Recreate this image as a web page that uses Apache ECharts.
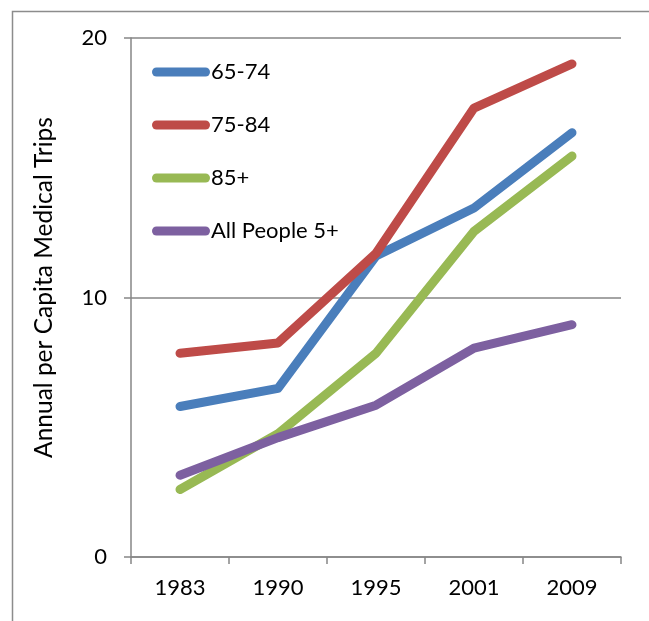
<!DOCTYPE html>
<html>
<head>
<meta charset="utf-8">
<script src="https://cdn.jsdelivr.net/npm/echarts@6/dist/echarts.min.js"></script>
<style>
  html, body { margin: 0; padding: 0; background: #fff; }
  #chart { width: 649px; height: 621px; }
</style>
</head>
<body>
<div id="chart"></div>
<script>
// Survey years on the category axis
const years = ['1983', '1990', '1995', '2001', '2009'];

// Annual per capita medical trips by age group
const age65to74 = [5.8, 6.5, 11.6, 13.45, 16.35];
const age75to84 = [7.85, 8.25, 11.7, 17.3, 19.0];
const age85plus = [2.6, 4.75, 7.85, 12.55, 15.45];
const allPeople5plus = [3.15, 4.6, 5.85, 8.05, 8.95];

const seriesNames = ['65-74', '75-84', '85+', 'All People 5+'];
const seriesColors = ['#4A7EBB', '#BE4B48', '#98B954', '#7D60A0'];
const seriesValues = [age65to74, age75to84, age85plus, allPeople5plus];

const font = 'Lato, "Liberation Sans", sans-serif';
const axisGray = '#868686';

const chart = echarts.init(document.getElementById('chart'), null, { renderer: 'canvas' });

chart.setOption({
  animation: false,
  backgroundColor: '#fff',
  graphic: [{
    type: 'rect',
    left: 10, top: 9,
    shape: { width: 700, height: 700 },
    style: { fill: 'none', stroke: '#8c8c8c', lineWidth: 1.5 },
    silent: true
  }],
  grid: { left: 131, right: 28, top: 38, bottom: 64 },
  legend: {
    orient: 'vertical',
    left: 152, top: 60,
    padding: 0,
    itemWidth: 58, itemHeight: 9,
    itemGap: 29,
    icon: 'path://M4.5,0 H53.5 A4.5,4.5 0 0 1 53.5,9 H4.5 A4.5,4.5 0 0 1 4.5,0 Z',
    textStyle: { fontFamily: font, fontSize: 22, color: '#000', padding: [0, 0, 0, -4], lineHeight: 24 },
    data: seriesNames
  },
  xAxis: {
    type: 'category',
    data: years,
    boundaryGap: true,
    axisLine: { lineStyle: { color: axisGray, width: 1.5 } },
    axisTick: { show: true, alignWithLabel: false, length: 7, lineStyle: { color: axisGray, width: 1.5 } },
    axisLabel: { fontFamily: font, fontSize: 22, color: '#000', margin: 20 }
  },
  yAxis: {
    type: 'value',
    min: 0, max: 20, interval: 10,
    name: 'Annual per Capita Medical Trips',
    nameLocation: 'middle',
    nameGap: 74,
    nameTextStyle: { fontFamily: font, fontSize: 24.5, color: '#000', padding: [0, 0, 0, 20] },
    axisLine: { show: true, lineStyle: { color: axisGray, width: 1.5 } },
    axisTick: { show: true, length: 7, lineStyle: { color: axisGray, width: 1.5 } },
    axisLabel: { fontFamily: font, fontSize: 22, color: '#000', margin: 24 },
    splitLine: { show: true, lineStyle: { color: axisGray, width: 1.5 } }
  },
  series: seriesNames.map((name, i) => ({
    name,
    type: 'line',
    data: seriesValues[i],
    symbol: 'none',
    showSymbol: false,
    color: seriesColors[i],
    lineStyle: { width: 9, color: seriesColors[i], cap: 'round', join: 'round' },
    z: 2 + (i === 3 ? 1 : 0)
  }))
});
</script>
</body>
</html>
